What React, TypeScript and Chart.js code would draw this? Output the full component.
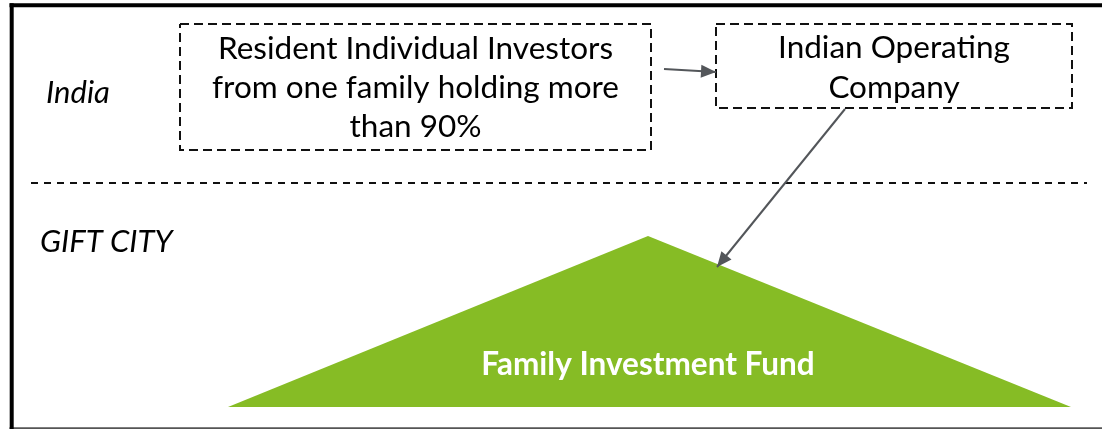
import React, { useEffect, useRef } from "react";
import { Chart, registerables } from "chart.js";
Chart.register(...registerables);

const W = 1102;
const H = 429;

// ---- Diagram data (values on a linear 0..W by 0..H grid) ----
const regionLabels = ["India", "GIFT CITY"];
const regionLabelX = [46, 40];
const regionLabelY = [93, 242];

const investorLines = ["Resident Individual Investors", "from one family holding more", "than 90%"];
const companyLines = ["Indian Operating", "Company"];
const fundLabel = ["Family Investment Fund"];

const investorBoxX = [180, 651, 651, 180, 180];
const investorBoxY = [24, 24, 150, 150, 24];
const companyBoxX = [716, 1072, 1072, 716, 716];
const companyBoxY = [24, 24, 108, 108, 24];
const dividerX = [31, 1087];
const dividerY = [183, 183];
const fundX = [228, 648, 1071];
const fundY = [407, 236, 407];
const arrowOwnX = [664, 716];
const arrowOwnY = [69, 72];
const arrowFundX = [845, 717];
const arrowFundY = [109, 267];
const frameTopX = [9.5, 1102];
const frameTopY = [5.3, 5.3];
const frameLeftX = [11.7, 11.7];
const frameLeftY = [3.3, 429];
const frameBottomX = [9.5, 1102];
const frameBottomY = [428.2, 428.2];

const investorTextY = [49, 88, 127];
const companyTextY = [48, 88];
const fundTextY = [365];

const pts = (xs: number[], ys: number[]) => xs.map((x, i) => ({ x, y: ys[i] }));

const GREEN = "#86bc25";
const ARROW = "#53565a";
const FONT = "Lato, 'Open Sans', sans-serif";

export default function App() {
  const ref = useRef<HTMLCanvasElement>(null);

  useEffect(() => {
    document.body.style.margin = "0";
    const canvas = ref.current;
    if (!canvas) return;

    const lineDs = (xs: number[], ys: number[], color: string, width: number, dash: number[] = []) => ({
      type: "line" as const,
      data: pts(xs, ys),
      borderColor: color,
      borderWidth: width,
      borderDash: dash,
      borderCapStyle: "butt" as const,
      pointRadius: 0,
      fill: false,
      tension: 0,
    });

    const decorPlugin = {
      id: "decor",
      afterDatasetsDraw(chart: any) {
        const ctx = chart.ctx as CanvasRenderingContext2D;
        const xs = chart.scales.x;
        const ys = chart.scales.y;
        const px = (v: number) => xs.getPixelForValue(v);
        const py = (v: number) => ys.getPixelForValue(v);

        // arrowheads
        const head = (x0: number, y0: number, x1: number, y1: number) => {
          const ax = px(x0), ay = py(y0), bx = px(x1), by = py(y1);
          const ang = Math.atan2(by - ay, bx - ax);
          const len = 15, half = 6.5;
          ctx.save();
          ctx.fillStyle = ARROW;
          ctx.beginPath();
          ctx.moveTo(bx, by);
          ctx.lineTo(bx - len * Math.cos(ang) + half * Math.sin(ang), by - len * Math.sin(ang) - half * Math.cos(ang));
          ctx.lineTo(bx - len * Math.cos(ang) - half * Math.sin(ang), by - len * Math.sin(ang) + half * Math.cos(ang));
          ctx.closePath();
          ctx.fill();
          ctx.restore();
        };
        head(arrowOwnX[0], arrowOwnY[0], arrowOwnX[1], arrowOwnY[1]);
        head(arrowFundX[0], arrowFundY[0], arrowFundX[1], arrowFundY[1]);

        ctx.save();
        ctx.textBaseline = "middle";
        // region labels
        ctx.fillStyle = "#000";
        ctx.font = `italic 31px ${FONT}`;
        ctx.textAlign = "left";
        regionLabels.forEach((t, i) => ctx.fillText(t, px(regionLabelX[i]), py(regionLabelY[i])));

        // box texts
        ctx.font = `31.5px ${FONT}`;
        ctx.textAlign = "center";
        const invCx = px((investorBoxX[0] + investorBoxX[1]) / 2);
        investorLines.forEach((t, i) => ctx.fillText(t, invCx, py(investorTextY[i])));
        const comCx = px((companyBoxX[0] + companyBoxX[1]) / 2);
        companyLines.forEach((t, i) => ctx.fillText(t, comCx, py(companyTextY[i])));

        // fund label
        ctx.fillStyle = "#ffffff";
        ctx.font = `bold 31.5px ${FONT}`;
        fundLabel.forEach((t, i) => ctx.fillText(t, px(fundX[1]), py(fundTextY[i])));
        ctx.restore();
      },
    };

    const chart = new Chart(canvas, {
      type: "line",
      data: {
        datasets: [
          lineDs(arrowFundX, arrowFundY, ARROW, 2),
          lineDs(arrowOwnX, arrowOwnY, ARROW, 2.2),
          lineDs(investorBoxX, investorBoxY, "#111", 2, [9, 5]),
          lineDs(companyBoxX, companyBoxY, "#111", 2, [9, 5]),
          lineDs(dividerX, dividerY, "#111", 2, [7, 6]),
          lineDs(frameTopX, frameTopY, "#000", 4),
          lineDs(frameLeftX, frameLeftY, "#000", 4),
          lineDs(frameBottomX, frameBottomY, "#555", 2),
          {
            type: "line" as const,
            data: pts(fundX, fundY),
            borderWidth: 0,
            borderColor: GREEN,
            backgroundColor: GREEN,
            pointRadius: 0,
            tension: 0,
            fill: { value: fundY[0] },
          },
        ] as any,
      },
      options: {
        responsive: false,
        animation: false,
        events: [],
        layout: { padding: 0 },
        plugins: { legend: { display: false }, tooltip: { enabled: false } },
        scales: {
          x: { type: "linear", min: 0, max: W, display: false },
          y: { type: "linear", min: 0, max: H, reverse: true, display: false },
        },
      },
      plugins: [decorPlugin],
    });
    return () => chart.destroy();
  }, []);

  return (
    <div style={{ width: W, height: H, background: "#fff" }}>
      <canvas ref={ref} width={W} height={H} style={{ display: "block" }} />
    </div>
  );
}
